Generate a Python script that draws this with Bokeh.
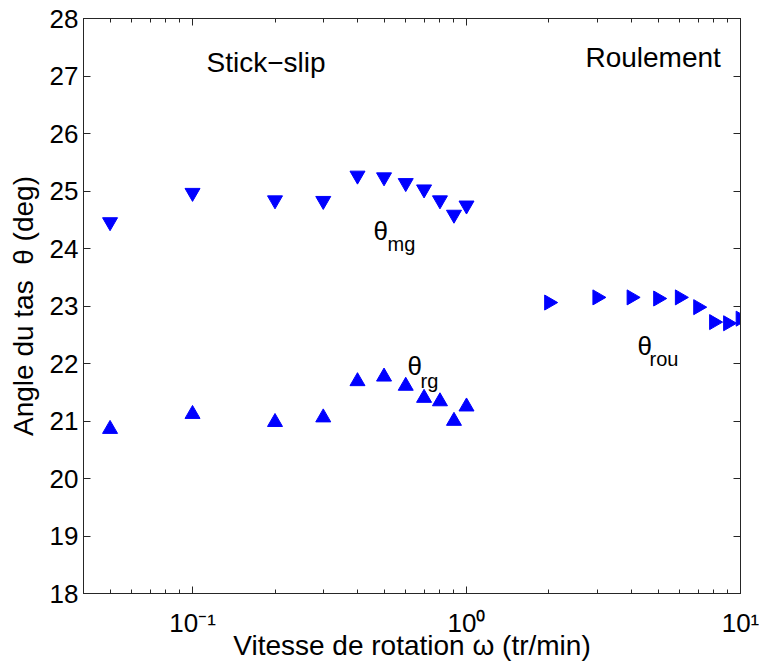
import numpy as np
from bokeh.plotting import figure
from bokeh.models import FixedTicker, LogAxis, LinearAxis, Label, Range1d
from bokeh.embed import file_html
from bokeh.resources import INLINE

# ---------------- data ----------------
speed_gap = [0.05, 0.1, 0.2, 0.3, 0.4, 0.5, 0.6, 0.7, 0.8, 0.9, 1.0]
theta_mg = [24.46, 24.97, 24.84, 24.83, 25.27, 25.24, 25.14, 25.03, 24.84, 24.59, 24.75]
theta_rg = [20.86, 21.12, 20.98, 21.06, 21.69, 21.77, 21.61, 21.40, 21.34, 21.00, 21.25]
speed_roll = [2, 3, 4, 5, 6, 7, 8, 9, 10]
theta_rou = [23.06, 23.15, 23.15, 23.13, 23.15, 22.98, 22.72, 22.70, 22.78]

x_major_ticks = [0.1, 1, 10]
x_tick_labels = ["10\u207b\u00b9", "10\u2070", "10\u00b9"]
x_minor_ticks = [0.05, 0.06, 0.07, 0.08, 0.09,
                 0.2, 0.3, 0.4, 0.5, 0.6, 0.7, 0.8, 0.9,
                 2, 3, 4, 5, 6, 7, 8, 9]
y_ticks = [18, 19, 20, 21, 22, 23, 24, 25, 26, 27, 28]

x_label = "Vitesse de rotation \u03c9 (tr/min)"
y_label = "Angle du tas \u00a0\u03b8 (deg)"

FONT = "Liberation Sans"
AX = "#262626"
BLUE = "#0000ff"

x_lo, x_hi = 0.04, 10
p = figure(width=759, height=664, x_axis_type="log",
           x_range=Range1d(x_lo, x_hi), y_range=Range1d(18, 28),
           output_backend="svg", toolbar_location=None,
           min_border_left=83, min_border_right=19,
           min_border_top=18, min_border_bottom=71)
p.grid.visible = False
p.outline_line_color = AX
p.outline_line_width = 1
p.background_fill_color = "white"
p.border_fill_color = "white"

xt = FixedTicker(ticks=x_major_ticks, minor_ticks=x_minor_ticks)
yt = FixedTicker(ticks=y_ticks, minor_ticks=[])


def style_axis(ax, ticker, show_labels=False):
    ax.ticker = ticker
    ax.axis_line_color = AX
    ax.major_tick_line_color = AX
    ax.minor_tick_line_color = AX
    ax.major_tick_in = 7
    ax.major_tick_out = 0
    ax.minor_tick_in = 4
    ax.minor_tick_out = 0
    if show_labels:
        ax.major_label_text_font = FONT
        ax.major_label_text_font_size = "26px"
        ax.major_label_text_color = "black"
        ax.major_label_standoff = 5
        ax.axis_label_text_font = FONT
        ax.axis_label_text_font_size = "28px"
        ax.axis_label_text_font_style = "normal"
        ax.axis_label_text_color = "black"
    else:
        ax.major_label_text_font_size = "1px"
        ax.major_label_text_alpha = 0
        ax.major_label_standoff = 0


xa = p.xaxis[0]
style_axis(xa, xt, show_labels=True)
xa.major_label_overrides = dict(zip(x_major_ticks, x_tick_labels))
xa.major_label_standoff = 14
xa.axis_label = x_label
xa.axis_label_standoff = -11

ya = p.yaxis[0]
style_axis(ya, yt, show_labels=True)
ya.axis_label = y_label
ya.axis_label_standoff = 8

top = LogAxis()
style_axis(top, xt)
p.add_layout(top, "above")
right = LinearAxis()
style_axis(right, yt)
p.add_layout(right, "right")

# ---------------- markers ----------------
p.scatter(speed_gap, theta_mg, marker="inverted_triangle", size=15,
          fill_color=BLUE, line_color=BLUE)
p.scatter(speed_gap, theta_rg, marker="triangle", size=15,
          fill_color=BLUE, line_color=BLUE)
p.scatter(speed_roll, theta_rou, marker="triangle", size=15, angle=-np.pi / 2,
          fill_color=BLUE, line_color=BLUE)

# ---------------- annotations ----------------
def txt(x, y, s, size="28px", dx=0, dy=0, align="left"):
    p.add_layout(Label(x=x, y=y, text=s, text_align=align,
                       text_baseline="alphabetic", x_offset=dx, y_offset=dy,
                       text_font=FONT, text_font_size=size, text_color="black"))

txt(0.1854, 27.24, "Stick\u2212slip", align="center")
txt(4.80, 27.33, "Roulement", align="center")

txt(0.458, 24.31, "\u03b8", size="26px")
txt(0.458, 24.31, "mg", size="20px", dx=14, dy=-13)
txt(0.609, 21.96, "\u03b8", size="26px")
txt(0.609, 21.96, "rg", size="20px", dx=13, dy=-15)
txt(4.21, 22.31, "\u03b8", size="26px")
txt(4.21, 22.31, "rou", size="20px", dx=12, dy=-13)

open("out.html", "w").write(file_html(p, INLINE))
